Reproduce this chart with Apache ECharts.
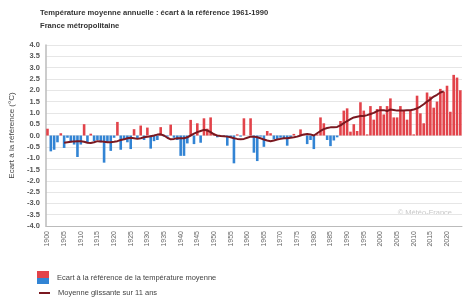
<!DOCTYPE html>
<html>
<head>
<meta charset="utf-8">
<script src="https://cdn.jsdelivr.net/npm/echarts@6/dist/echarts.min.js"></script>
<style>
  html, body {margin: 0; padding: 0; background: #fff;}
  #chart {width: 474px; height: 305px;}
</style>
</head>
<body>
<div id="chart"></div>
<script>
// années 1900 -> 2024
var firstYear = 1900;
var lastYear = 2024;

// écart annuel à la référence 1961-1990 (°C), 1900..2024
var anomalies = [
    0.3, -0.7, -0.63, -0.3, 0.1, -0.55, -0.1, -0.3, -0.4, -0.95,
    -0.4, 0.5, -0.3, 0.08, -0.25, -0.2, -0.3, -1.2, -0.3, -0.68,
    -0.1, 0.6, -0.63, -0.15, -0.3, -0.6, 0.28, -0.15, 0.44, -0.2,
    0.35, -0.58, -0.25, -0.2, 0.37, -0.05, -0.05, 0.48, -0.1, -0.2,
    -0.9, -0.9, -0.35, 0.69, -0.38, 0.54, -0.32, 0.76, 0.3, 0.8,
    0.1, -0.08, 0.02, -0.05, -0.45, -0.1, -1.23, 0.05, -0.05, 0.76,
    0.0, 0.76, -0.76, -1.13, -0.05, -0.5, 0.2, 0.1, -0.17, -0.15,
    -0.1, -0.12, -0.45, -0.1, 0.07, 0.0, 0.27, 0.05, -0.38, -0.2,
    -0.6, 0.05, 0.8, 0.54, -0.2, -0.47, -0.22, -0.08, 0.64, 1.1,
    1.2, 0.17, 0.5, 0.2, 1.47, 1.1, 0.05, 1.3, 0.7, 1.17,
    1.3, 0.93, 1.3, 1.64, 0.8, 0.8, 1.3, 1.12, 0.7, 1.12,
    0.05, 1.76, 0.98, 0.54, 1.9, 1.72, 1.23, 1.5, 2.06, 1.94,
    2.2, 1.05, 2.68, 2.56, 2.0
];

// moyenne glissante sur 11 ans, 1905..2019
var movingStart = 1905;
var movingAvg = [
    -0.32, -0.3, -0.28, -0.26, -0.25, -0.25, -0.28, -0.32, -0.33, -0.3,
    -0.25, -0.26, -0.28, -0.3, -0.3, -0.28, -0.25, -0.2, -0.17, -0.12,
    -0.1, -0.12, -0.15, -0.12, -0.08, -0.06, -0.03, 0.0, 0.04, 0.05,
    0.0, -0.1, -0.17, -0.15, -0.12, -0.12, -0.12, -0.08, 0.0, 0.08,
    0.15, 0.2, 0.25, 0.22, 0.15, 0.05, 0.0, -0.02, -0.03, -0.05,
    -0.08, -0.12, -0.15, -0.17, -0.15, -0.1, -0.05, -0.05, -0.08, -0.12,
    -0.18, -0.22, -0.25, -0.22, -0.18, -0.15, -0.12, -0.12, -0.1, -0.08,
    -0.05, 0.0, 0.05, 0.07, 0.05, 0.0, 0.1, 0.2, 0.28, 0.33,
    0.36, 0.37, 0.38, 0.45, 0.55, 0.64, 0.72, 0.8, 0.83, 0.86,
    0.86, 0.9, 0.95, 1.0, 1.08, 1.12, 1.12, 1.08, 1.15, 1.13,
    1.1, 1.1, 1.1, 1.12, 1.12, 1.15, 1.2, 1.28, 1.38, 1.5,
    1.6, 1.72, 1.8, 1.9, 1.95
];

var BAR_NAME = 'Ecart à la référence de la température moyenne';
var LINE_NAME = 'Moyenne glissante sur 11 ans';
var RED = '#e2434a';
var BLUE = '#3284d4';
var LINE = '#7a1820';
var FONT = 'Liberation Sans, Arial, sans-serif';

var years = [];
for (var y = firstYear; y <= lastYear; y++) {
    years.push(String(y));
}

var lineData = years.map(function(yr) {
    var k = Number(yr) - movingStart;
    return (k >= 0 && k < movingAvg.length) ? movingAvg[k] : null;
});

var barData = anomalies.map(function(v) {
    return {value: v, itemStyle: {color: v >= 0 ? RED : BLUE}};
});

var chart = echarts.init(document.getElementById('chart'), null, {renderer: 'canvas'});
chart.setOption({
    animation: false,
    textStyle: {fontFamily: FONT},
    title: {
        text: 'Température moyenne annuelle : écart à la référence 1961-1990\nFrance métropolitaine',
        left: 40, top: 6, padding: 0,
        textStyle: {fontSize: 7.6, fontWeight: 'bold', color: '#333', lineHeight: 13}
    },
    grid: {left: 38, right: 12, top: 45, bottom: 79},
    legend: [
        {
            left: 37, top: 271, padding: 0,
            itemWidth: 12, itemHeight: 13,
            textStyle: {fontSize: 7.5, color: '#444', padding: [0, 0, 0, 3]},
            data: [{name: BAR_NAME, icon: 'rect',
                itemStyle: {color: {type: 'linear', x: 0, y: 0, x2: 0, y2: 1, colorStops: [
                    {offset: 0, color: RED}, {offset: 0.5, color: RED},
                    {offset: 0.5, color: BLUE}, {offset: 1, color: BLUE}]}}}]
        },
        {
            left: 39, top: 289, padding: 0,
            itemWidth: 11, itemHeight: 2,
            textStyle: {fontSize: 7.5, color: '#444', padding: [0, 0, 0, 3]},
            data: [{name: LINE_NAME, icon: 'rect', itemStyle: {color: LINE}}]
        }
    ],
    xAxis: {
        type: 'category',
        data: years,
        axisLine: {onZero: false, lineStyle: {color: '#bbb'}},
        axisTick: {show: false},
        axisLabel: {interval: 4, rotate: 90, fontSize: 7, color: '#666', margin: 5}
    },
    yAxis: {
        type: 'value',
        min: -4, max: 4, interval: 0.5,
        name: 'Ecart à la référence (°C)',
        nameLocation: 'middle', nameGap: 24,
        nameTextStyle: {fontSize: 8, color: '#444'},
        axisLine: {show: true, lineStyle: {color: '#bbb', width: 1.5}},
        axisTick: {show: false},
        axisLabel: {fontSize: 7.5, color: '#555', fontWeight: 'bold', margin: 6,
            formatter: function(v) { return v.toFixed(1); }},
        splitLine: {lineStyle: {color: '#e6e6e6'}}
    },
    graphic: [{
        type: 'text', right: 22, top: 209,
        style: {text: '© Météo-France', fontSize: 7.5, fill: '#c8c8c8', fontFamily: FONT}
    }],
    series: [
        {
            name: BAR_NAME,
            type: 'bar',
            barCategoryGap: '22%',
            itemStyle: {color: RED},
            data: barData
        },
        {
            name: LINE_NAME,
            type: 'line',
            symbol: 'none',
            connectNulls: false,
            lineStyle: {color: LINE, width: 2},
            itemStyle: {color: LINE},
            data: lineData,
            z: 5
        }
    ]
});
</script>
</body>
</html>
